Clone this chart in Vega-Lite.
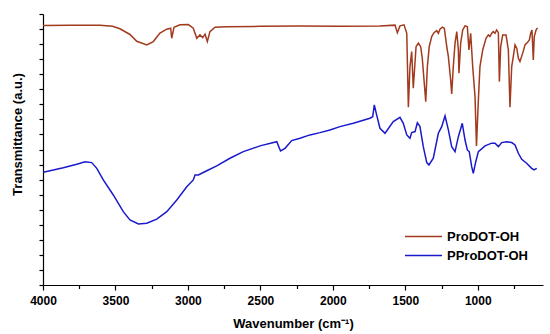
{
  "$schema": "https://vega.github.io/schema/vega-lite/v6.json",
  "autosize": "none",
  "width": 500,
  "height": 271,
  "padding": {"left": 43, "top": 14, "right": 7, "bottom": 49},
  "background": "white",
  "config": {
    "view": {"stroke": null},
    "font": "Liberation Sans",
    "axis": {"domainColor": "black", "tickColor": "black", "grid": false, "domainWidth": 1.2, "tickWidth": 1.2}
  },
  "data": {"values": [
    {"s":"ProDOT-OH","wn":4000,"t":17.24},{"s":"ProDOT-OH","wn":3814,"t":17.26},{"s":"ProDOT-OH","wn":3607,"t":17.26},{"s":"ProDOT-OH","wn":3520,"t":17.18},{"s":"ProDOT-OH","wn":3469,"t":17.02},{"s":"ProDOT-OH","wn":3400,"t":16.64},{"s":"ProDOT-OH","wn":3353,"t":16.19},{"s":"ProDOT-OH","wn":3284,"t":15.95},{"s":"ProDOT-OH","wn":3239,"t":16.17},{"s":"ProDOT-OH","wn":3193,"t":16.74},{"s":"ProDOT-OH","wn":3146,"t":16.99},{"s":"ProDOT-OH","wn":3119,"t":17.06},{"s":"ProDOT-OH","wn":3112,"t":16.39},{"s":"ProDOT-OH","wn":3096,"t":17.12},{"s":"ProDOT-OH","wn":3055,"t":17.28},{"s":"ProDOT-OH","wn":2997,"t":17.3},{"s":"ProDOT-OH","wn":2963,"t":17.06},{"s":"ProDOT-OH","wn":2939,"t":16.39},{"s":"ProDOT-OH","wn":2917,"t":16.61},{"s":"ProDOT-OH","wn":2898,"t":16.43},{"s":"ProDOT-OH","wn":2882,"t":16.66},{"s":"ProDOT-OH","wn":2866,"t":16.17},{"s":"ProDOT-OH","wn":2848,"t":16.83},{"s":"ProDOT-OH","wn":2813,"t":17.12},{"s":"ProDOT-OH","wn":2733,"t":17.16},{"s":"ProDOT-OH","wn":2503,"t":17.18},{"s":"ProDOT-OH","wn":2227,"t":17.2},{"s":"ProDOT-OH","wn":1951,"t":17.18},{"s":"ProDOT-OH","wn":1675,"t":17.21},{"s":"ProDOT-OH","wn":1571,"t":17.26},{"s":"ProDOT-OH","wn":1555,"t":16.76},{"s":"ProDOT-OH","wn":1537,"t":17.21},{"s":"ProDOT-OH","wn":1509,"t":17.28},{"s":"ProDOT-OH","wn":1490,"t":16.72},{"s":"ProDOT-OH","wn":1479,"t":11.81},{"s":"ProDOT-OH","wn":1468,"t":14.5},{"s":"ProDOT-OH","wn":1456,"t":15.5},{"s":"ProDOT-OH","wn":1445,"t":13.07},{"s":"ProDOT-OH","wn":1426,"t":15.83},{"s":"ProDOT-OH","wn":1410,"t":16.06},{"s":"ProDOT-OH","wn":1394,"t":15.83},{"s":"ProDOT-OH","wn":1383,"t":15.06},{"s":"ProDOT-OH","wn":1371,"t":13.62},{"s":"ProDOT-OH","wn":1359,"t":12.18},{"s":"ProDOT-OH","wn":1348,"t":14.5},{"s":"ProDOT-OH","wn":1335,"t":15.83},{"s":"ProDOT-OH","wn":1318,"t":16.5},{"s":"ProDOT-OH","wn":1302,"t":16.76},{"s":"ProDOT-OH","wn":1284,"t":16.9},{"s":"ProDOT-OH","wn":1272,"t":16.72},{"s":"ProDOT-OH","wn":1261,"t":16.99},{"s":"ProDOT-OH","wn":1245,"t":17.12},{"s":"ProDOT-OH","wn":1231,"t":17.06},{"s":"ProDOT-OH","wn":1214,"t":15.83},{"s":"ProDOT-OH","wn":1203,"t":15.17},{"s":"ProDOT-OH","wn":1187,"t":13.62},{"s":"ProDOT-OH","wn":1180,"t":12.69},{"s":"ProDOT-OH","wn":1169,"t":14.5},{"s":"ProDOT-OH","wn":1157,"t":16.06},{"s":"ProDOT-OH","wn":1145,"t":16.83},{"s":"ProDOT-OH","wn":1134,"t":15.61},{"s":"ProDOT-OH","wn":1130,"t":14.07},{"s":"ProDOT-OH","wn":1118,"t":16.06},{"s":"ProDOT-OH","wn":1104,"t":16.94},{"s":"ProDOT-OH","wn":1088,"t":17.21},{"s":"ProDOT-OH","wn":1072,"t":17.16},{"s":"ProDOT-OH","wn":1061,"t":15.61},{"s":"ProDOT-OH","wn":1049,"t":16.72},{"s":"ProDOT-OH","wn":1035,"t":14.5},{"s":"ProDOT-OH","wn":1019,"t":12.51},{"s":"ProDOT-OH","wn":1009,"t":9.24},{"s":"ProDOT-OH","wn":996,"t":12.29},{"s":"ProDOT-OH","wn":985,"t":14.5},{"s":"ProDOT-OH","wn":966,"t":15.61},{"s":"ProDOT-OH","wn":943,"t":16.39},{"s":"ProDOT-OH","wn":927,"t":16.61},{"s":"ProDOT-OH","wn":916,"t":16.5},{"s":"ProDOT-OH","wn":904,"t":16.72},{"s":"ProDOT-OH","wn":893,"t":16.83},{"s":"ProDOT-OH","wn":881,"t":16.72},{"s":"ProDOT-OH","wn":870,"t":16.94},{"s":"ProDOT-OH","wn":858,"t":16.76},{"s":"ProDOT-OH","wn":851,"t":13.51},{"s":"ProDOT-OH","wn":842,"t":15.83},{"s":"ProDOT-OH","wn":828,"t":16.61},{"s":"ProDOT-OH","wn":805,"t":16.61},{"s":"ProDOT-OH","wn":789,"t":15.61},{"s":"ProDOT-OH","wn":778,"t":11.81},{"s":"ProDOT-OH","wn":766,"t":14.5},{"s":"ProDOT-OH","wn":755,"t":15.17},{"s":"ProDOT-OH","wn":743,"t":15.95},{"s":"ProDOT-OH","wn":731,"t":15.73},{"s":"ProDOT-OH","wn":720,"t":15.06},{"s":"ProDOT-OH","wn":709,"t":14.84},{"s":"ProDOT-OH","wn":690,"t":15.4},{"s":"ProDOT-OH","wn":674,"t":15.95},{"s":"ProDOT-OH","wn":658,"t":16.1},{"s":"ProDOT-OH","wn":644,"t":16.28},{"s":"ProDOT-OH","wn":635,"t":16.72},{"s":"ProDOT-OH","wn":626,"t":16.94},{"s":"ProDOT-OH","wn":617,"t":14.95},{"s":"ProDOT-OH","wn":610,"t":16.5},{"s":"ProDOT-OH","wn":598,"t":16.94},{"s":"ProDOT-OH","wn":588,"t":17.08},
    {"s":"PProDOT-OH","wn":3998,"t":7.49},{"s":"PProDOT-OH","wn":3860,"t":7.79},{"s":"PProDOT-OH","wn":3767,"t":8.02},{"s":"PProDOT-OH","wn":3710,"t":8.19},{"s":"PProDOT-OH","wn":3664,"t":8.13},{"s":"PProDOT-OH","wn":3629,"t":7.75},{"s":"PProDOT-OH","wn":3584,"t":6.98},{"s":"PProDOT-OH","wn":3515,"t":5.98},{"s":"PProDOT-OH","wn":3446,"t":4.87},{"s":"PProDOT-OH","wn":3400,"t":4.32},{"s":"PProDOT-OH","wn":3342,"t":4.05},{"s":"PProDOT-OH","wn":3284,"t":4.1},{"s":"PProDOT-OH","wn":3215,"t":4.37},{"s":"PProDOT-OH","wn":3146,"t":4.87},{"s":"PProDOT-OH","wn":3077,"t":5.65},{"s":"PProDOT-OH","wn":3008,"t":6.53},{"s":"PProDOT-OH","wn":2963,"t":6.98},{"s":"PProDOT-OH","wn":2951,"t":7.31},{"s":"PProDOT-OH","wn":2928,"t":7.31},{"s":"PProDOT-OH","wn":2870,"t":7.59},{"s":"PProDOT-OH","wn":2801,"t":7.91},{"s":"PProDOT-OH","wn":2710,"t":8.42},{"s":"PProDOT-OH","wn":2618,"t":8.86},{"s":"PProDOT-OH","wn":2503,"t":9.24},{"s":"PProDOT-OH","wn":2387,"t":9.52},{"s":"PProDOT-OH","wn":2361,"t":8.9},{"s":"PProDOT-OH","wn":2330,"t":9.08},{"s":"PProDOT-OH","wn":2284,"t":9.59},{"s":"PProDOT-OH","wn":2227,"t":9.75},{"s":"PProDOT-OH","wn":2158,"t":9.97},{"s":"PProDOT-OH","wn":2089,"t":10.12},{"s":"PProDOT-OH","wn":2020,"t":10.3},{"s":"PProDOT-OH","wn":1951,"t":10.52},{"s":"PProDOT-OH","wn":1859,"t":10.74},{"s":"PProDOT-OH","wn":1744,"t":11.08},{"s":"PProDOT-OH","wn":1725,"t":11.18},{"s":"PProDOT-OH","wn":1714,"t":11.96},{"s":"PProDOT-OH","wn":1698,"t":11.3},{"s":"PProDOT-OH","wn":1675,"t":10.41},{"s":"PProDOT-OH","wn":1640,"t":10.08},{"s":"PProDOT-OH","wn":1583,"t":10.85},{"s":"PProDOT-OH","wn":1537,"t":11.14},{"s":"PProDOT-OH","wn":1514,"t":10.74},{"s":"PProDOT-OH","wn":1490,"t":9.97},{"s":"PProDOT-OH","wn":1468,"t":9.75},{"s":"PProDOT-OH","wn":1456,"t":10.12},{"s":"PProDOT-OH","wn":1433,"t":10.19},{"s":"PProDOT-OH","wn":1417,"t":10.78},{"s":"PProDOT-OH","wn":1399,"t":10.52},{"s":"PProDOT-OH","wn":1376,"t":9.19},{"s":"PProDOT-OH","wn":1352,"t":8.13},{"s":"PProDOT-OH","wn":1337,"t":7.97},{"s":"PProDOT-OH","wn":1307,"t":8.42},{"s":"PProDOT-OH","wn":1272,"t":10.08},{"s":"PProDOT-OH","wn":1249,"t":10.52},{"s":"PProDOT-OH","wn":1226,"t":11.23},{"s":"PProDOT-OH","wn":1203,"t":10.3},{"s":"PProDOT-OH","wn":1180,"t":9.19},{"s":"PProDOT-OH","wn":1157,"t":8.86},{"s":"PProDOT-OH","wn":1134,"t":9.85},{"s":"PProDOT-OH","wn":1107,"t":10.74},{"s":"PProDOT-OH","wn":1088,"t":9.63},{"s":"PProDOT-OH","wn":1072,"t":8.97},{"s":"PProDOT-OH","wn":1059,"t":8.86},{"s":"PProDOT-OH","wn":1042,"t":7.86},{"s":"PProDOT-OH","wn":1031,"t":7.42},{"s":"PProDOT-OH","wn":1014,"t":8.19},{"s":"PProDOT-OH","wn":996,"t":8.86},{"s":"PProDOT-OH","wn":950,"t":9.24},{"s":"PProDOT-OH","wn":904,"t":9.42},{"s":"PProDOT-OH","wn":881,"t":9.42},{"s":"PProDOT-OH","wn":858,"t":9.19},{"s":"PProDOT-OH","wn":835,"t":9.46},{"s":"PProDOT-OH","wn":800,"t":9.52},{"s":"PProDOT-OH","wn":766,"t":9.46},{"s":"PProDOT-OH","wn":743,"t":9.3},{"s":"PProDOT-OH","wn":720,"t":8.75},{"s":"PProDOT-OH","wn":697,"t":8.35},{"s":"PProDOT-OH","wn":663,"t":8.09},{"s":"PProDOT-OH","wn":628,"t":7.75},{"s":"PProDOT-OH","wn":612,"t":7.64},{"s":"PProDOT-OH","wn":593,"t":7.75}
  ]},
  "mark": {"type": "line", "strokeWidth": 1.5, "interpolate": "linear"},
  "encoding": {
    "x": {
      "field": "wn", "type": "quantitative",
      "scale": {"domain": [4000, 550], "nice": false, "zero": false},
      "axis": {
        "values": [4000, 3750, 3500, 3250, 3000, 2750, 2500, 2250, 2000, 1750, 1500, 1250, 1000, 750],
        "labelExpr": "datum.value % 500 === 0 ? format(datum.value, 'd') : ''",
        "tickSize": {"condition": {"test": "datum.value % 500 === 0", "value": 5}, "value": 3.5},
        "labelPadding": 5,
        "labelFontSize": 12, "labelFontWeight": "bold", "labelColor": "black",
        "labelFlush": false,
        "title": "Wavenumber (cm⁻¹)",
        "titleFontSize": 13, "titleFontWeight": "bold", "titleColor": "black",
        "titlePadding": 11
      }
    },
    "y": {
      "field": "t", "type": "quantitative",
      "scale": {"domain": [0, 18], "nice": false, "zero": false},
      "axis": {
        "values": [0,1,2,3,4,5,6,7,8,9,10,11,12,13,14,15,16,17,18],
        "labels": false,
        "tickSize": 4,
        "title": "Transmittance (a.u.)",
        "titleFontSize": 13, "titleFontWeight": "bold", "titleColor": "black",
        "titlePadding": 14,
        "titleY": 120
      }
    },
    "color": {
      "field": "s", "type": "nominal",
      "scale": {"domain": ["ProDOT-OH", "PProDOT-OH"], "range": ["#A23A1E", "#1A1ACC"]},
      "legend": {
        "title": null,
        "orient": "none",
        "legendX": 361,
        "legendY": 214,
        "padding": 0,
        "symbolType": "stroke",
        "symbolSize": 1369,
        "symbolStrokeWidth": 1.5,
        "clipHeight": 17,
        "labelFontSize": 13,
        "labelFontWeight": "bold",
        "labelColor": "black",
        "labelOffset": 4
      }
    }
  }
}
